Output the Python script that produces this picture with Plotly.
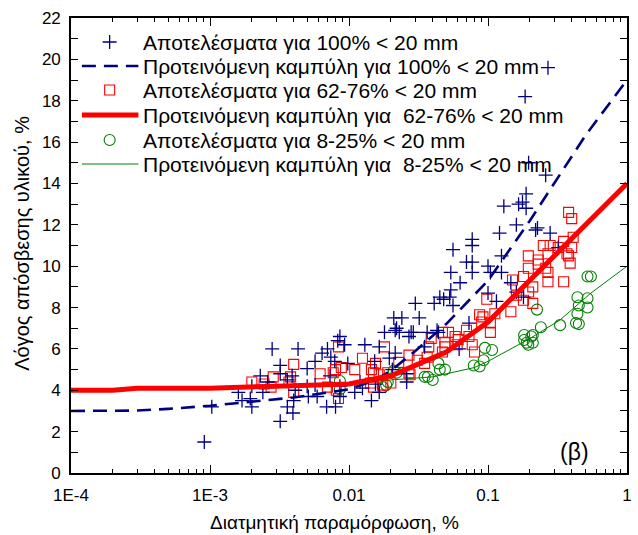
import plotly.graph_objects as go

# ---------------- data ----------------
blue_x = [9.1e-4, 1.03e-3, 1.6e-3, 1.7e-3, 1.95e-3, 2.0e-3, 2.0e-3, 2.3e-3, 2.4e-3, 2.6e-3,
          2.8e-3, 3.2e-3, 3.2e-3, 3.2e-3, 3.6e-3, 3.6e-3, 3.9e-3, 3.95e-3, 4.0e-3, 4.1e-3,
          4.3e-3, 5.0e-3, 5.0e-3, 5.1e-3, 5.7e-3, 5.7e-3, 5.9e-3, 6.4e-3, 6.9e-3, 7.0e-3,
          7.3e-3, 7.4e-3, 7.9e-3, 8.0e-3, 8.3e-3, 8.6e-3, 8.6e-3, 8.6e-3, 9.3e-3, 9.8e-3,
          0.011, 0.012, 0.0125, 0.013, 0.0145, 0.0153, 0.0155, 0.0165, 0.0165, 0.018,
          0.0195, 0.0205, 0.021, 0.0215, 0.0215, 0.022, 0.023, 0.024, 0.026, 0.026,
          0.027, 0.028, 0.029, 0.030, 0.032, 0.035, 0.0365, 0.041, 0.043, 0.044,
          0.045, 0.048, 0.053, 0.054, 0.054, 0.056, 0.056, 0.062, 0.063, 0.07,
          0.073, 0.077, 0.077, 0.077, 0.077, 0.1, 0.1, 0.104, 0.115, 0.121,
          0.125, 0.125, 0.13, 0.146, 0.16, 0.16, 0.166, 0.18, 0.177, 0.188,
          0.188, 0.185, 0.196, 0.22, 0.227, 0.26, 0.27, 0.28, 0.32]
blue_y = [1.5, 3.2, 3.9, 3.5, 3.6, 3.2, 4.2, 4.7, 3.9, 4.4,
          6.0, 5.2, 4.8, 2.5, 4.5, 3.2, 4.7, 2.9, 3.5, 4.0,
          6.0, 5.05, 4.2, 3.7, 5.4, 4.25, 3.7, 5.8, 3.2, 6.0,
          4.7, 5.6, 5.4, 3.2, 6.4, 6.6, 4.2, 3.7, 6.2, 5.3,
          3.9, 4.4, 4.1, 6.2, 3.5, 5.4, 4.3, 6.1, 3.9, 6.8,
          5.55, 5.0, 7.5, 5.8, 6.9, 7.0, 6.8, 7.5, 4.4, 4.8,
          6.6, 6.8, 6.8, 8.2, 7.5, 6.1, 6.8, 8.2, 6.9, 6.8,
          8.5, 8.4, 8.5, 9.7, 8.85, 10.8, 8.1, 6.0, 9.2, 10.2,
          7.25, 11.3, 11.0, 10.2, 9.7, 10.0, 8.7, 9.7, 8.3, 11.6,
          9.7, 10.5, 12.9, 9.2, 12.0, 8.75, 13.0, 8.5, 13.1, 12.8,
          13.5, 18.2, 15.0, 11.75, 11.85, 14.4, 19.6, 11.6, 10.9]

red_x = [2.0e-3, 2.45e-3, 2.75e-3, 2.85e-3, 3.7e-3, 3.8e-3, 4.0e-3, 4.0e-3, 6.2e-3, 7.0e-3,
         7.7e-3, 8.0e-3, 8.1e-3, 8.4e-3, 8.4e-3, 8.8e-3, 0.011, 0.0125, 0.0143, 0.0145,
         0.015, 0.015, 0.0155, 0.0165, 0.0175, 0.018, 0.019, 0.02, 0.0228, 0.027,
         0.027, 0.0275, 0.031, 0.035, 0.0365, 0.0375, 0.039, 0.047, 0.047, 0.049,
         0.049, 0.052, 0.058, 0.06, 0.061, 0.07, 0.073, 0.077, 0.08, 0.087,
         0.09, 0.092, 0.098, 0.104, 0.104, 0.112, 0.146, 0.15, 0.16, 0.18,
         0.18, 0.195, 0.195, 0.196, 0.21, 0.21, 0.23, 0.23, 0.25, 0.26,
         0.27, 0.27, 0.27, 0.28, 0.32, 0.35, 0.35, 0.37, 0.38, 0.38,
         0.39, 0.4, 0.4, 0.41]
red_y = [4.4, 4.3, 4.15, 4.65, 4.4, 4.65, 5.25, 3.9, 4.8, 4.15,
         4.85, 5.0, 4.0, 6.1, 3.6, 5.1, 5.0, 5.55, 4.35, 5.0,
         4.15, 4.85, 5.3, 4.75, 4.25, 6.1, 4.85, 4.35, 5.35, 5.7,
         4.85, 4.75, 5.45, 5.3, 5.6, 6.1, 6.5, 5.85, 6.8, 6.3,
         6.1, 6.8, 6.6, 6.2, 6.45, 6.9, 6.6, 6.2, 5.85, 7.65,
         7.3, 7.55, 8.4, 7.25, 6.8, 7.7, 7.8, 9.33, 8.6, 9.5,
         8.35, 10.5, 9.9, 8.75, 8.2, 9.0, 10.3, 10.1, 11.0, 9.9,
         10.6, 9.7, 9.25, 11.0, 10.9, 11.2, 9.25, 10.6, 10.5, 12.6,
         10.15, 12.3, 10.9, 11.4]

green_x = [8.6e-3, 8.6e-3, 0.0175, 0.0185, 0.019, 0.021, 0.022, 0.035, 0.037, 0.04,
           0.044, 0.045, 0.049, 0.079, 0.087, 0.093, 0.095, 0.107, 0.182, 0.182,
           0.19, 0.195, 0.205, 0.21, 0.21, 0.225, 0.24, 0.33, 0.43, 0.45,
           0.44, 0.45, 0.44, 0.52, 0.52, 0.52, 0.55]
green_y = [4.45, 4.05, 4.15, 4.25, 4.4, 4.95, 4.85, 4.65, 4.65, 4.5,
           5.3, 5.0, 5.0, 5.2, 5.15, 5.45, 6.05, 5.95, 6.67, 6.43,
           6.3, 6.2, 6.6, 6.3, 6.67, 7.9, 7.05, 7.15, 7.25, 7.2,
           7.7, 8.1, 8.5, 8.45, 8.0, 9.5, 9.5]

blue_curve_x = [1e-4, 2e-4, 3e-4, 5e-4, 1e-3, 2e-3, 4e-3, 0.01, 0.015, 0.02, 0.03, 0.05, 0.1, 0.2, 0.5, 1.0]
blue_curve_y = [3.0, 3.0, 3.02, 3.1, 3.25, 3.45, 3.65, 4.05, 4.45, 4.95, 5.9, 7.2, 9.3, 12.2, 16.3, 19.0]

red_curve_x = [1e-4, 2e-4, 3e-4, 1e-3, 3e-3, 0.01, 0.02, 0.03, 0.05, 0.1, 0.2, 0.32, 1.0]
red_curve_y = [4.0, 4.0, 4.1, 4.1, 4.2, 4.3, 4.7, 5.2, 5.85, 7.3, 9.3, 10.7, 14.0]

green_curve_x = [1e-4, 1e-3, 0.01, 0.02, 0.04, 0.08, 0.1, 0.2, 0.33, 0.55, 1.0]
green_curve_y = [4.05, 4.1, 4.3, 4.5, 4.65, 5.1, 5.4, 6.5, 7.4, 8.7, 10.0]

x_tick_vals = [1e-4, 1e-3, 1e-2, 1e-1, 1.0]
x_tick_text = ["1E-4", "1E-3", "0.01", "0.1", "1"]
y_tick_vals = list(range(0, 23))
y_tick_text = [str(v) if v % 2 == 0 else "" for v in y_tick_vals]

legend_labels = [
    "Αποτελέσματα για 100% < 20 mm",
    "Προτεινόμενη καμπύλη για 100% < 20 mm",
    "Αποτελέσματα για 62-76% < 20 mm",
    "Προτεινόμενη καμπύλη για  62-76% < 20 mm",
    "Αποτελέσματα για 8-25% < 20 mm",
    "Προτεινόμενη καμπύλη για  8-25% < 20 mm",
]
x_title = "Διατμητική παραμόρφωση, %"
y_title = "Λόγος απόσβεσης υλικού, %"
panel_label = "(β)"

# ---------------- styles ----------------
NAVY = "#000080"
RED = "#ff0000"
GREEN = "#008000"
FONT = "Arial, 'Liberation Sans', sans-serif"

blue_marker = dict(symbol="cross-thin-open", size=10, line=dict(color=NAVY, width=1.3), color=NAVY)
red_marker = dict(symbol="square-open", size=10, line=dict(color=RED, width=1.1), color=RED)
green_marker = dict(symbol="circle-open", size=11, line=dict(color=GREEN, width=1.1), color=GREEN)
blue_line = dict(color=NAVY, width=2.6, dash="14px,8px")
red_line = dict(color=RED, width=5)
green_line = dict(color=GREEN, width=1)

fig = go.Figure()

fig.add_trace(go.Scatter(x=green_curve_x, y=green_curve_y, mode="lines", line=green_line, showlegend=False))
fig.add_trace(go.Scatter(x=green_x, y=green_y, mode="markers", marker=green_marker, showlegend=False))
fig.add_trace(go.Scatter(x=red_x, y=red_y, mode="markers", marker=red_marker, showlegend=False))
fig.add_trace(go.Scatter(x=blue_x, y=blue_y, mode="markers", marker=blue_marker, showlegend=False))
fig.add_trace(go.Scatter(x=blue_curve_x, y=blue_curve_y, mode="lines", line=blue_line, showlegend=False))
fig.add_trace(go.Scatter(x=red_curve_x, y=red_curve_y, mode="lines", line=red_line, showlegend=False))

# ---------------- hand-drawn legend on an overlay pixel axis ----------------
row_y = [42, 66, 90, 115, 140, 164]
sample_x0, sample_x1, sample_mid, text_x = 82, 139, 110, 142
legend_styles = [
    ("markers", blue_marker, None),
    ("lines", None, blue_line),
    ("markers", red_marker, None),
    ("lines", None, red_line),
    ("markers", green_marker, None),
    ("lines", None, green_line),
]
for (mode, mk, ln), ry, label in zip(legend_styles, row_y, legend_labels):
    if mode == "markers":
        fig.add_trace(go.Scatter(x=[sample_mid], y=[ry], mode="markers", marker=mk,
                                 xaxis="x2", yaxis="y2", showlegend=False, hoverinfo="skip"))
    else:
        fig.add_trace(go.Scatter(x=[sample_x0, sample_x1], y=[ry, ry], mode="lines", line=ln,
                                 xaxis="x2", yaxis="y2", showlegend=False, hoverinfo="skip"))
    fig.add_annotation(x=text_x, y=ry, xref="x2", yref="y2", text=label, showarrow=False,
                       xanchor="left", yanchor="middle", font=dict(family=FONT, size=21, color="black"))

fig.add_annotation(x=0.905, y=0.047, xref="paper", yref="paper", text=panel_label, showarrow=False,
                   xanchor="center", yanchor="middle", font=dict(family=FONT, size=23, color="black"))

# axis titles placed as annotations (the reference x title sits slightly left of centre)
fig.add_annotation(x=0.474, y=-0.108, xref="paper", yref="paper", text=x_title, showarrow=False,
                   xanchor="center", yanchor="middle", font=dict(family=FONT, size=19, color="black"))
fig.add_annotation(x=-0.087, y=0.505, xref="paper", yref="paper", text=y_title, showarrow=False,
                   textangle=-90, xanchor="center", yanchor="middle",
                   font=dict(family=FONT, size=20, color="black"))

minor_vals = [m * 10.0 ** e for e in range(-4, 0) for m in range(2, 10)]

axis_common = dict(showline=True, linecolor="black", linewidth=1.6, mirror="allticks",
                   ticks="inside", tickcolor="black", tickwidth=1.2, showgrid=False, zeroline=False,
                   tickfont=dict(family=FONT, size=17, color="black"))

fig.update_layout(
    width=638, height=535,
    margin=dict(l=71, r=6, t=18, b=62),
    paper_bgcolor="white", plot_bgcolor="white",
    font=dict(family=FONT, color="black"),
    xaxis=dict(type="log", range=[-4, 0], tickvals=x_tick_vals, ticktext=x_tick_text, ticklen=8,
               ticklabelstandoff=6,
               minor=dict(tickvals=minor_vals, ticks="inside", ticklen=4, tickcolor="black", tickwidth=1),
               **axis_common),
    yaxis=dict(range=[0, 22], tickvals=y_tick_vals, ticktext=y_tick_text, ticklen=7,
               ticklabelstandoff=5, **axis_common),
    xaxis2=dict(overlaying="x", range=[71, 632], visible=False, fixedrange=True),
    yaxis2=dict(overlaying="y", range=[473, 18], visible=False, fixedrange=True),
)

fig.write_html("out.html")
